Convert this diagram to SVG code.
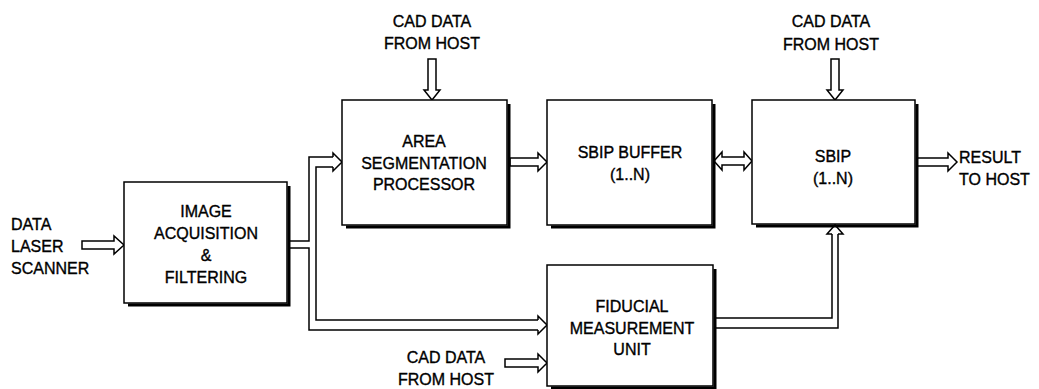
<svg xmlns="http://www.w3.org/2000/svg" width="1039" height="389" viewBox="0 0 1039 389">
<style>
.box{fill:#fff;stroke:#000;stroke-width:1.5}
.sh{fill:none;stroke:#000;stroke-width:3}
.t{font-family:"Liberation Sans",Arial,sans-serif;font-size:16px;fill:#000;stroke:#000;stroke-width:0.35;text-anchor:middle}
.l{text-anchor:start}
.arr{fill:#fff;stroke:#000;stroke-width:1.5;stroke-linejoin:miter}
.ln{fill:none;stroke:#000;stroke-width:1.5}
</style>
<rect width="1039" height="389" fill="#fff"/>
<g id="connectors">
<polygon class="arr" points="82,241 114,241 114,236 124,245 114,254 114,249 82,249"/>
<path class="ln" d="M288,241 H309 V157 H333 M288,248 H309 V330 H538 M333,167 H316 V320 H538"/>
<polyline class="arr" points="333,157 333,153 342,162 333,171 333,167"/>
<polyline class="arr" points="538,320 538,316 547,325 538,334 538,330"/>
<polygon class="arr" points="510,158 538,158 538,153 547,162 538,171 538,166 510,166"/>
<polygon class="arr" points="714,161 722,152 722,157 744,157 744,152 752,161 744,170 744,165 722,165 722,170"/>
<polygon class="arr" points="917,158 948,158 948,153 957,162 948,171 948,166 917,166"/>
<polygon class="arr" points="428,59 436,59 436,90 440,90 432,100 424,90 428,90"/>
<polygon class="arr" points="831,59 839,59 839,90 843,90 835,100 827,90 831,90"/>
<polygon class="arr" points="505,359 538,359 538,354 547,363 538,372 538,367 505,367"/>
<path class="ln" d="M715,318 H832 V234 M715,328 H838 V234"/>
<polyline class="arr" points="832,234 827,234 835,225 843,234 838,234"/>
</g>
<g id="image-acq">
<polyline class="sh" points="289,186 289,305 128,305"/>
<rect class="box" x="124" y="182" width="163" height="121"/>
<text class="t" x="206" y="217">IMAGE</text>
<text class="t" x="206" y="239">ACQUISITION</text>
<text class="t" x="206" y="261">&amp;</text>
<text class="t" x="206" y="283">FILTERING</text>
</g>
<g id="data-laser">
<text class="t l" x="11" y="230">DATA</text>
<text class="t l" x="11" y="252">LASER</text>
<text class="t l" x="11" y="274">SCANNER</text>
</g>
<g id="area-seg">
<polyline class="sh" points="509,104 509,227 346,227"/>
<rect class="box" x="342" y="100" width="165" height="125"/>
<text class="t" x="424" y="147">AREA</text>
<text class="t" x="424" y="169">SEGMENTATION</text>
<text class="t" x="424" y="190">PROCESSOR</text>
</g>
<g id="sbip-buffer">
<polyline class="sh" points="714,104 714,227 551,227"/>
<rect class="box" x="547" y="100" width="165" height="125"/>
<text class="t" x="630" y="158">SBIP BUFFER</text>
<text class="t" x="630" y="180">(1..N)</text>
</g>
<g id="sbip">
<polyline class="sh" points="917,104 917,226 756,226"/>
<rect class="box" x="752" y="100" width="163" height="124"/>
<text class="t" x="833" y="162">SBIP</text>
<text class="t" x="833" y="184">(1..N)</text>
</g>
<g id="fiducial">
<polyline class="sh" points="715,269 715,388 551,388"/>
<rect class="box" x="547" y="265" width="166" height="121"/>
<text class="t" x="632" y="312">FIDUCIAL</text>
<text class="t" x="632" y="334">MEASUREMENT</text>
<text class="t" x="632" y="355">UNIT</text>
</g>
<g id="cad1">
<text class="t" x="432" y="27">CAD DATA</text>
<text class="t" x="432" y="49">FROM HOST</text>
</g>
<g id="cad2">
<text class="t" x="831" y="27">CAD DATA</text>
<text class="t" x="831" y="50">FROM HOST</text>
</g>
<g id="cad3">
<text class="t" x="446" y="363">CAD DATA</text>
<text class="t" x="446" y="385">FROM HOST</text>
</g>
<g id="result">
<text class="t l" x="959" y="163">RESULT</text>
<text class="t l" x="959" y="185">TO HOST</text>
</g>
</svg>
